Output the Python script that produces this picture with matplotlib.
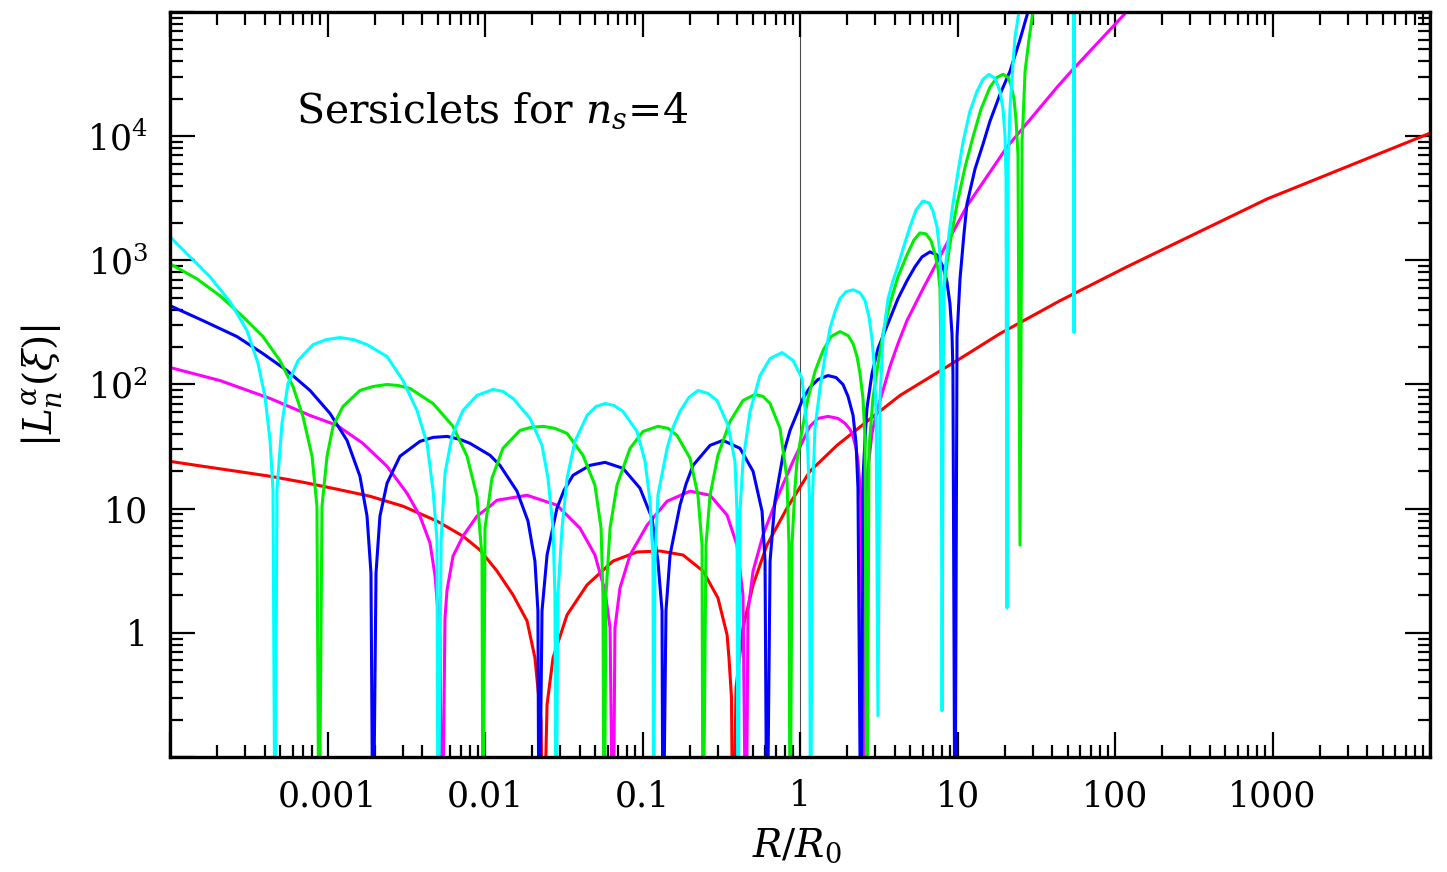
import numpy as np
import matplotlib
matplotlib.use("Agg")
import matplotlib.pyplot as plt
from matplotlib.ticker import LogLocator, NullFormatter

plt.rcParams['font.family'] = 'DejaVu Serif'
plt.rcParams['mathtext.fontset'] = 'dejavuserif'

# (log10 R/R0, log10 |L_n^alpha|), one list per order n
n2_pts = [(-4.000, 1.381), (-3.790, 1.341), (-3.575, 1.301), (-3.365, 1.261), (-3.156, 1.213),
          (-2.940, 1.157), (-2.730, 1.100), (-2.521, 1.020), (-2.305, 0.900), (-2.140, 0.779),
          (-2.032, 0.667), (-1.924, 0.498), (-1.822, 0.305), (-1.733, 0.096), (-1.683, -0.201),
          (-1.644, -0.707), (-1.632, -2.0), (-1.606, -0.578), (-1.568, -0.201), (-1.479, 0.145),
          (-1.352, 0.386), (-1.187, 0.578), (-1.035, 0.651), (-0.889, 0.659), (-0.743, 0.627),
          (-0.616, 0.498), (-0.521, 0.281), (-0.463, -0.016), (-0.451, -0.201), (-0.435, -0.522),
          (-0.425, -2.0), (-0.406, -0.442), (-0.362, 0.040), (-0.298, 0.386), (-0.210, 0.707),
          (-0.083, 1.004), (0.063, 1.301), (0.235, 1.510), (0.425, 1.703), (0.635, 1.912),
          (0.997, 2.193), (1.270, 2.410), (1.651, 2.675), (2.076, 2.948), (2.965, 3.494),
          (4.000, 4.024)]

n4_pts = [(-4.000, 2.137), (-3.683, 2.032), (-3.365, 1.888), (-3.111, 1.751), (-2.940, 1.671),
          (-2.775, 1.526), (-2.622, 1.341), (-2.495, 1.124), (-2.413, 0.940), (-2.349, 0.723),
          (-2.317, 0.458), (-2.286, -0.040), (-2.273, -2.0), (-2.254, 0.120), (-2.241, 0.345),
          (-2.203, 0.618), (-2.140, 0.779), (-2.051, 0.940), (-1.968, 1.020), (-1.924, 1.068),
          (-1.733, 1.108), (-1.543, 1.028), (-1.397, 0.843), (-1.302, 0.627), (-1.238, 0.337),
          (-1.206, 0.040), (-1.187, -2.0), (-1.175, 0.040), (-1.143, 0.361), (-1.079, 0.627),
          (-0.971, 0.867), (-0.844, 1.060), (-0.698, 1.141), (-0.571, 1.108), (-0.463, 0.948),
          (-0.400, 0.707), (-0.362, 0.305), (-0.343, -2.0), (-0.330, 0.177), (-0.298, 0.498),
          (-0.235, 0.787), (-0.146, 1.084), (-0.044, 1.382), (0.063, 1.663), (0.114, 1.727),
          (0.178, 1.743), (0.241, 1.727), (0.286, 1.687), (0.317, 1.639), (0.337, 1.582),
          (0.356, 1.486), (0.368, 1.382), (0.387, 1.084), (0.406, -2.0), (0.419, 1.084),
          (0.432, 1.325), (0.457, 1.606), (0.489, 1.791), (0.527, 1.952), (0.571, 2.145),
          (0.622, 2.329), (0.679, 2.514), (0.781, 2.771), (0.921, 3.108), (1.060, 3.438),
          (1.314, 3.912), (1.632, 4.394), (1.733, 4.538), (2.076, 5.004), (2.222, 5.140)]

n6_pts = [(-4.000, 2.635), (-3.790, 2.514), (-3.575, 2.386), (-3.410, 2.249), (-3.257, 2.112),
          (-3.111, 1.952), (-2.984, 1.767), (-2.876, 1.550), (-2.794, 1.261), (-2.749, 0.940),
          (-2.724, 0.482), (-2.711, -2.0), (-2.692, 0.482), (-2.667, 0.940), (-2.622, 1.205),
          (-2.540, 1.422), (-2.413, 1.542), (-2.330, 1.574), (-2.241, 1.582), (-2.159, 1.558),
          (-2.095, 1.526), (-1.968, 1.430), (-1.905, 1.349), (-1.797, 1.141), (-1.727, 0.900),
          (-1.683, 0.578), (-1.664, 0.177), (-1.657, -2.0), (-1.638, 0.177), (-1.606, 0.627),
          (-1.543, 1.004), (-1.498, 1.149), (-1.441, 1.269), (-1.333, 1.349), (-1.238, 1.373),
          (-1.124, 1.325), (-1.016, 1.165), (-0.940, 0.924), (-0.902, 0.578), (-0.876, 0.177),
          (-0.870, -2.0), (-0.851, 0.177), (-0.825, 0.627), (-0.762, 1.028), (-0.724, 1.197),
          (-0.679, 1.349), (-0.571, 1.510), (-0.489, 1.550), (-0.381, 1.486), (-0.298, 1.301),
          (-0.241, 0.980), (-0.222, 0.578), (-0.210, -2.0), (-0.190, 0.578), (-0.159, 1.060),
          (-0.108, 1.430), (-0.063, 1.631), (-0.019, 1.767), (0.019, 1.888), (0.063, 1.976),
          (0.114, 2.040), (0.178, 2.072), (0.229, 2.056), (0.273, 2.000), (0.305, 1.904),
          (0.337, 1.751), (0.356, 1.526), (0.368, 1.165), (0.387, -2.0), (0.400, 1.245),
          (0.413, 1.566), (0.425, 1.807), (0.457, 2.088), (0.495, 2.289), (0.533, 2.410),
          (0.571, 2.530), (0.622, 2.691), (0.679, 2.835), (0.730, 2.948), (0.775, 3.028),
          (0.825, 3.068), (0.870, 3.044), (0.908, 2.948), (0.933, 2.827), (0.952, 2.651),
          (0.965, 2.410), (0.971, 2.112), (0.984, -2.0), (0.997, 2.386), (1.016, 2.851),
          (1.041, 3.213), (1.060, 3.454), (1.111, 3.735), (1.162, 3.936), (1.206, 4.120),
          (1.270, 4.337), (1.333, 4.522), (1.397, 4.779), (1.448, 5.004), (1.524, 5.261)]

n8_pts = [(-4.000, 2.972), (-3.829, 2.851), (-3.683, 2.715), (-3.537, 2.546), (-3.410, 2.386),
          (-3.302, 2.193), (-3.219, 1.984), (-3.156, 1.743), (-3.098, 1.422), (-3.067, 1.020),
          (-3.054, -2.0), (-3.035, 1.020), (-3.003, 1.422), (-2.965, 1.663), (-2.902, 1.823),
          (-2.794, 1.952), (-2.711, 1.984), (-2.622, 2.000), (-2.552, 1.992), (-2.476, 1.968),
          (-2.330, 1.847), (-2.203, 1.663), (-2.114, 1.422), (-2.051, 1.100), (-2.019, 0.618),
          (-2.013, -2.0), (-2.000, 0.843), (-1.956, 1.245), (-1.886, 1.486), (-1.778, 1.630),
          (-1.708, 1.655), (-1.632, 1.663), (-1.556, 1.647), (-1.479, 1.606), (-1.378, 1.430),
          (-1.302, 1.189), (-1.263, 0.843), (-1.251, 0.305), (-1.244, -2.0), (-1.232, 0.305),
          (-1.206, 0.843), (-1.162, 1.189), (-1.079, 1.486), (-0.997, 1.622), (-0.902, 1.663),
          (-0.838, 1.647), (-0.781, 1.590), (-0.698, 1.406), (-0.648, 1.108), (-0.622, 0.707),
          (-0.616, -2.0), (-0.597, 0.707), (-0.571, 1.108), (-0.521, 1.430), (-0.444, 1.703),
          (-0.362, 1.871), (-0.286, 1.920), (-0.235, 1.904), (-0.190, 1.847), (-0.127, 1.647),
          (-0.083, 1.245), (-0.070, 0.707), (-0.063, -2.0), (-0.051, 0.707), (-0.032, 1.165),
          (-0.019, 1.382), (0.013, 1.631), (0.051, 1.888), (0.095, 2.104), (0.146, 2.273),
          (0.197, 2.386), (0.254, 2.426), (0.305, 2.394), (0.337, 2.329), (0.362, 2.225),
          (0.381, 2.088), (0.400, 1.888), (0.413, 1.566), (0.425, -2.0), (0.438, 1.486),
          (0.463, 1.888), (0.489, 2.112), (0.527, 2.410), (0.571, 2.651), (0.622, 2.867),
          (0.679, 3.044), (0.724, 3.165), (0.762, 3.221), (0.800, 3.213), (0.832, 3.157),
          (0.857, 3.052), (0.876, 2.932), (0.889, 2.771), (0.902, 1.566), (0.914, 2.771),
          (0.933, 2.972), (0.965, 3.229), (0.997, 3.454), (1.048, 3.751), (1.098, 3.992),
          (1.149, 4.217), (1.206, 4.394), (1.251, 4.474), (1.289, 4.498), (1.321, 4.474),
          (1.340, 4.410), (1.359, 4.297), (1.371, 4.137), (1.384, 3.855), (1.397, 0.707),
          (1.410, 3.976), (1.416, 4.120), (1.429, 4.522), (1.454, 4.779), (1.479, 5.004),
          (1.511, 5.261)]

n10_pts = [(-4.000, 3.189), (-3.873, 3.028), (-3.746, 2.867), (-3.619, 2.667), (-3.511, 2.434),
           (-3.441, 2.169), (-3.397, 1.904), (-3.365, 1.550), (-3.346, 1.149), (-3.333, -2.0),
           (-3.321, 1.149), (-3.289, 1.687), (-3.251, 2.008), (-3.187, 2.193), (-3.092, 2.321),
           (-3.010, 2.361), (-2.921, 2.378), (-2.832, 2.361), (-2.749, 2.321), (-2.622, 2.225),
           (-2.521, 2.032), (-2.432, 1.791), (-2.368, 1.526), (-2.330, 1.149), (-2.305, 0.747),
           (-2.298, -2.0), (-2.279, 0.747), (-2.254, 1.285), (-2.210, 1.582), (-2.140, 1.791),
           (-2.051, 1.912), (-1.949, 1.960), (-1.886, 1.944), (-1.822, 1.888), (-1.714, 1.727),
           (-1.638, 1.510), (-1.600, 1.245), (-1.568, 0.843), (-1.556, 0.305), (-1.549, -2.0),
           (-1.537, 0.305), (-1.511, 0.843), (-1.479, 1.245), (-1.429, 1.542), (-1.352, 1.751),
           (-1.295, 1.823), (-1.238, 1.847), (-1.181, 1.831), (-1.124, 1.783), (-1.035, 1.622),
           (-0.984, 1.382), (-0.952, 1.060), (-0.933, 0.578), (-0.930, -2.0), (-0.921, 0.578),
           (-0.902, 1.108), (-0.844, 1.486), (-0.806, 1.655), (-0.762, 1.783), (-0.705, 1.896),
           (-0.648, 1.952), (-0.584, 1.928), (-0.527, 1.871), (-0.457, 1.671), (-0.413, 1.382),
           (-0.400, 0.980), (-0.394, -2.0), (-0.381, 0.980), (-0.362, 1.382), (-0.317, 1.783),
           (-0.254, 2.072), (-0.190, 2.209), (-0.114, 2.257), (-0.044, 2.193), (0.013, 2.048),
           (0.044, 1.647), (0.060, 1.084), (0.067, -2.0), (0.079, 1.084), (0.095, 1.647),
           (0.127, 1.968), (0.159, 2.225), (0.190, 2.450), (0.222, 2.586), (0.254, 2.691),
           (0.292, 2.747), (0.337, 2.763), (0.381, 2.739), (0.413, 2.675), (0.438, 2.546),
           (0.457, 2.369), (0.470, 2.169), (0.483, 1.807), (0.495, -0.667), (0.508, 1.888),
           (0.527, 2.386), (0.559, 2.691), (0.590, 2.835), (0.616, 2.932), (0.654, 3.092),
           (0.698, 3.269), (0.737, 3.406), (0.781, 3.478), (0.819, 3.462), (0.844, 3.398),
           (0.870, 3.269), (0.889, 3.052), (0.895, 2.771), (0.902, -0.627), (0.911, 2.691),
           (0.921, 2.916), (0.946, 3.213), (0.971, 3.454), (1.003, 3.711), (1.035, 3.952),
           (1.079, 4.201), (1.124, 4.361), (1.162, 4.458), (1.200, 4.498), (1.238, 4.466),
           (1.270, 4.361), (1.289, 4.217), (1.302, 3.992), (1.308, 3.655), (1.314, 0.201),
           (1.321, 3.735), (1.333, 4.217), (1.352, 4.578), (1.365, 4.795), (1.390, 5.004),
           (1.450, 7.0), (1.735, 8.0), (1.740, 2.418), (1.745, 8.0)]

curves = [n2_pts, n4_pts, n6_pts, n8_pts, n10_pts]
colors = ['#ff0000', '#ff00ff', '#0000ff', '#00ee00', '#00ffff']

x_ticks = 10.0 ** np.arange(-4, 5)
x_labels = ['', '0.001', '0.01', '0.1', '1', '10', '100', '1000', '']
y_ticks = 10.0 ** np.arange(-1, 6)
y_labels = ['', '1', '10', r'10$^{2}$', r'10$^{3}$', r'10$^{4}$', '']
ref_r = 1.0

fig = plt.figure(figsize=(14.47, 8.72), dpi=100)
ax = fig.add_axes([170 / 1447, 115 / 872, 1260 / 1447, 745 / 872])

ax.axvline(ref_r, color='0.3', lw=0.8, zorder=1)
for pts, col in zip(curves, colors):
    a = np.array(pts)
    ax.plot(10 ** a[:, 0], 10 ** a[:, 1], color=col, lw=2.2, zorder=2)

ax.set_xscale('log')
ax.set_yscale('log')
ax.set_xlim(1e-4, 1e4)
ax.set_ylim(0.1, 1e5)

ax.set_xticks(x_ticks)
ax.set_xticklabels(x_labels)
ax.set_yticks(y_ticks)
ax.set_yticklabels(y_labels)
for axis in (ax.xaxis, ax.yaxis):
    axis.set_minor_locator(LogLocator(base=10, subs=np.arange(2, 10), numticks=100))
    axis.set_minor_formatter(NullFormatter())

ax.tick_params(which='both', direction='in', top=True, right=True, width=1.6)
ax.tick_params(which='major', length=18, labelsize=25, pad=16)
ax.tick_params(which='minor', length=9)
for sp in ax.spines.values():
    sp.set_linewidth(2.4)

ax.text(0.1, 0.866, r'Sersiclets for $n_s$=4', transform=ax.transAxes,
        fontsize=29.5, ha='left', va='center')
fig.text(797 / 1447, 1 - 846 / 872, r'$R/R_0$', fontsize=28, ha='center', va='center')
fig.text(41 / 1447, 1 - 385 / 872, r'$|L_n^\alpha(\xi)|$', fontsize=28,
         ha='center', va='center', rotation=90)

fig.savefig('out.png', dpi=100)
